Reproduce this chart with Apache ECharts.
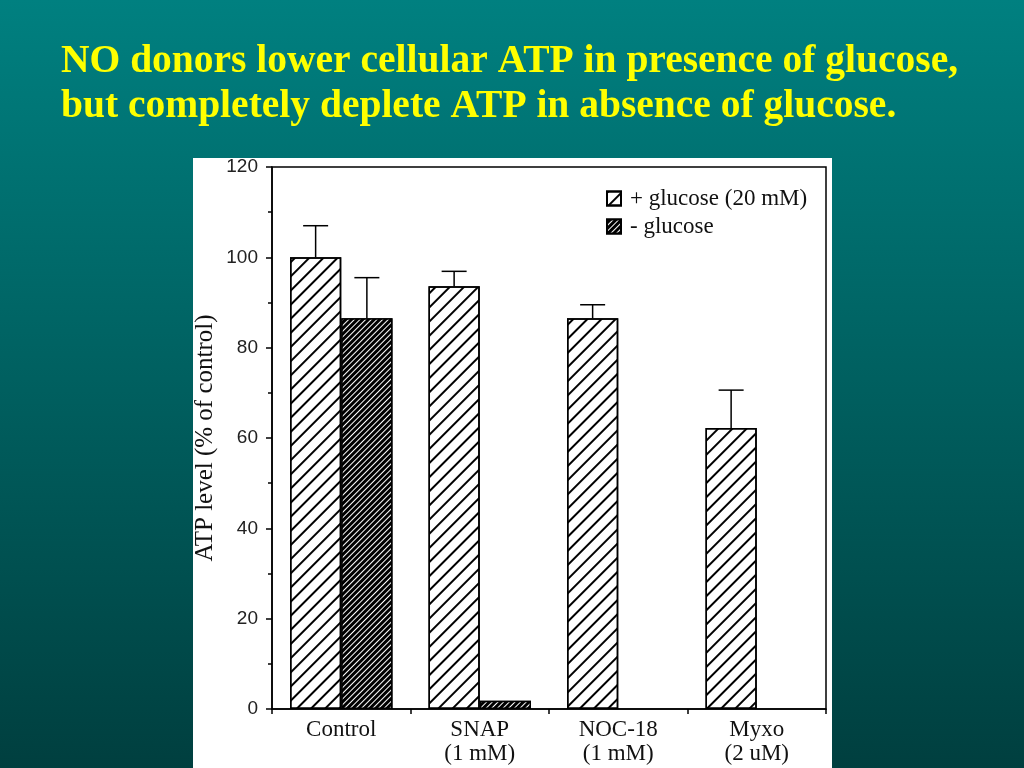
<!DOCTYPE html>
<html><head><meta charset="utf-8">
<script src="https://cdn.jsdelivr.net/npm/echarts@6/dist/echarts.min.js"></script>
<style>html,body{margin:0;padding:0;}#c{width:1024px;height:768px;}</style>
</head><body><div id="c"></div>
<script>
const categories = ['Control', 'SNAP\n(1 mM)', 'NOC-18\n(1 mM)', 'Myxo\n(2 uM)'];
const glucoseValues = [100, 93.6, 86.5, 62.2];
const glucoseSD = [7, 3.3, 3, 8.4];
const noGlucoseValues = [86.5, 1.8, null, null];
const noGlucoseSD = [9, null, null, null];
const yTicks = [0, 20, 40, 60, 80, 100, 120];

const BAR_FRAC = 0.37;
const serif = '"Liberation Serif", "Times New Roman", serif';
const sans = '"Liberation Sans", Arial, sans-serif';

function errSeries(name, values, sds, side) {
  return {
    type: 'custom', name: name + ' err', silent: true, z: 5,
    data: values.map((v, i) => [i, v, sds[i]]),
    renderItem: function (params, api) {
      const v = api.value(1), sd = api.value(2);
      if (v == null || isNaN(v) || sd == null || isNaN(sd)) return;
      const bw = api.size([1, 0])[0] * BAR_FRAC;
      const base = api.coord([api.value(0), v]);
      const top = api.coord([api.value(0), v + sd]);
      const x = base[0] + side * bw / 2;
      const cap = 12.5;
      return {
        type: 'group', children: [
          { type: 'line', shape: { x1: x, y1: base[1], x2: x, y2: top[1] }, style: { stroke: '#000', lineWidth: 1.5 } },
          { type: 'line', shape: { x1: x - cap, y1: top[1], x2: x + cap, y2: top[1] }, style: { stroke: '#000', lineWidth: 1.5 } }
        ]
      };
    }
  };
}

const chart = echarts.init(document.getElementById('c'));
chart.setOption({
  animation: false,
  backgroundColor: new echarts.graphic.LinearGradient(0, 0, 0, 1, [
    { offset: 0, color: '#008080' }, { offset: 1, color: '#003f3f' }
  ]),
  title: {
    text: 'NO donors lower cellular ATP in presence of glucose,\nbut completely deplete ATP in absence of glucose.',
    left: 56, top: 34,
    textStyle: { color: '#ffff00', fontFamily: serif, fontWeight: 'bold', fontSize: 39.5, lineHeight: 45 }
  },
  graphic: [{ type: 'rect', left: 193, top: 158, shape: { width: 639, height: 610 }, style: { fill: '#ffffff' }, z: -10 }],
  legend: {
    orient: 'vertical', left: 601, top: 182, itemWidth: 14, itemHeight: 14, itemGap: 5,
    icon: 'rect',
    textStyle: { fontFamily: serif, fontSize: 23, color: '#111', padding: [0, 0, 0, 4] },
    data: ['+ glucose (20 mM)', '- glucose']
  },
  grid: { left: 272, right: 198, top: 167, bottom: 59, show: true, borderColor: '#000', borderWidth: 1.5, backgroundColor: 'transparent' },
  xAxis: {
    type: 'category', data: categories,
    axisLine: { lineStyle: { color: '#000', width: 1.5 } },
    axisTick: { show: true, length: 5, lineStyle: { color: '#000', width: 1.5 } },
    axisLabel: { fontFamily: serif, fontSize: 23, color: '#111', lineHeight: 24, margin: 9, interval: 0 }
  },
  yAxis: {
    type: 'value', min: 0, max: 120, interval: 20,
    name: 'ATP level (% of control)', nameLocation: 'middle', nameGap: 54, nameMoveOverlap: false,
    nameTextStyle: { fontFamily: serif, fontSize: 25, color: '#111' },
    splitLine: { show: false },
    axisLine: { show: true, lineStyle: { color: '#000', width: 1.5 } },
    axisTick: { show: true, length: 6, lineStyle: { color: '#000', width: 1.5 } },
    minorTick: { show: true, splitNumber: 2, length: 4, lineStyle: { color: '#000', width: 1.5 } },
    axisLabel: { fontFamily: sans, fontSize: 19, color: '#222', margin: 14,
      formatter: function (v) { return yTicks.indexOf(v) >= 0 ? String(v) : ''; } }
  },
  series: [
    {
      name: '+ glucose (20 mM)', type: 'bar', data: glucoseValues, barWidth: (BAR_FRAC * 100) + '%', barGap: '0%',
      itemStyle: { color: '#ffffff', borderColor: '#000', borderWidth: 1.5,
        decal: { symbol: 'rect', symbolSize: 1, dashArrayX: [1, 0], dashArrayY: [1.3, 8], rotation: -Math.PI / 4, color: '#000' } }
    },
    {
      name: '- glucose', type: 'bar', data: noGlucoseValues, barWidth: (BAR_FRAC * 100) + '%',
      itemStyle: { color: '#000000', borderColor: '#000', borderWidth: 1.5,
        decal: { symbol: 'rect', symbolSize: 1, dashArrayX: [1, 0], dashArrayY: [1, 2.5], rotation: -Math.PI / 4, color: '#ffffff' } }
    },
    errSeries('+ glucose', glucoseValues, glucoseSD, -1),
    errSeries('- glucose', noGlucoseValues, noGlucoseSD, 1)
  ]
});
</script></body></html>
